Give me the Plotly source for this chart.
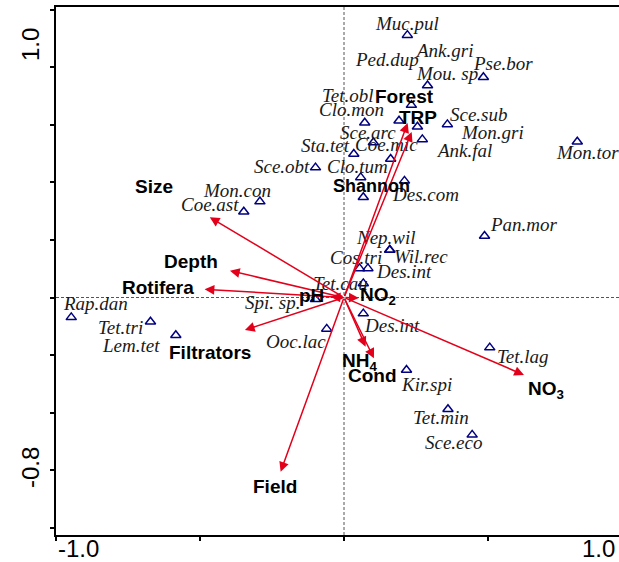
import plotly.graph_objects as go

# ---------------- data ----------------
species = ["Muc.pul", "Pse.bor", "Mou. sp", "Ank.gri", "Ped.dup", "Mon.gri", "Ank.fal",
           "Sce.sub", "Tet.obl", "Clo.mon", "Sta.tet", "Coe.mic", "Clo.tum", "Des.com",
           "Sce.arc", "Mon.tor", "Sce.obt", "Mon.con", "Coe.ast", "Pan.mor", "Nep.wil",
           "Wil.rec", "Cos.tri", "Des.int", "Tet.cau", "Spi. sp.", "Rap.dan", "Tet.tri",
           "Lem.tet", "Ooc.lac", "Des.int", "Tet.lag", "Kir.spi", "Tet.min", "Sce.eco"]
sp_x = [0.220, 0.484, 0.290, 0.234, 0.191, 0.255, 0.272,
        0.359, 0.072, 0.102, 0.034, 0.162, 0.058, 0.210,
        0.067, 0.810, -0.099, -0.292, -0.348, 0.488, 0.159,
        0.159, 0.054, 0.083, 0.067, -0.099, -0.947, -0.672,
        -0.584, -0.060, 0.067, 0.506, 0.217, 0.361, 0.445]
sp_y = [0.911, 0.765, 0.736, 0.668, 0.614, 0.593, 0.549,
        0.601, 0.607, 0.538, 0.498, 0.481, 0.417, 0.405,
        0.348, 0.541, 0.451, 0.333, 0.298, 0.2135, 0.165,
        0.165, 0.101, 0.101, 0.049, -0.006, -0.069, -0.084,
        -0.131, -0.109, -0.056, -0.174, -0.252, -0.388, -0.477]

env_names = ["Size", "Depth", "Rotifera", "Filtrators", "pH", "NO<sub>2</sub>",
             "NH<sub>4</sub>", "Cond", "NO<sub>3</sub>", "Field", "Forest", "TRP"]
env_x = [-0.466, -0.396, -0.484, -0.344, -0.046, 0.051, 0.075, 0.104, 0.625, -0.220, 0.221, 0.235]
env_y = [0.2785, 0.093, 0.0285, -0.113, 0.003, -0.002, -0.171, -0.211, -0.269, -0.605, 0.606, 0.575]

supp_names = ["Shannon"]
supp_x = [0.096]
supp_y = [0.387]

x_end_labels = ["-1.0", "1.0"]
y_end_labels = ["1.0", "-0.8"]

# ---------------- layout helpers (label offsets in px: right, down) ----------------
sp_lab_off = [(0, -12), (20, -14), (19, -12.5), (33, -55), (-12, -61), (75, 6), (42, 11),
              (32, -10), (-17, -27), (-22, -33), (-28, -9), (-4, -14), (-3, -11), (21, 14),
              (5, -65), (10, 11), (-33, -1.5), (-23, -11), (-34, -7), (39, -12), (-4, -12),
              (31, 7), (-4, -11), (36, 3), (-23, 0), (-43, 3), (24, -14), (-30, 6),
              (-45, 10), (-31, 13), (29, 11.5), (33, 9), (20, 14), (-7, 8), (-19, 8)]
env_lab_off = [(-56, -31), (-39, -9), (-47, -2), (-35, 22), (-19, -1.5), (19, -2),
               (-6.5, 15), (-1, 17), (22, 15), (-5.5, 15), (-3.5, -26), (6.5, -14)]

RED = "#E3001B"
NAVY = "#000080"

fig = go.Figure()
fig.add_trace(go.Scatter(
    x=sp_x, y=sp_y, mode="markers",
    marker=dict(symbol="triangle-up-open", size=9, color=NAVY, line=dict(width=1.5, color=NAVY)),
    hoverinfo="text", text=species, showlegend=False, cliponaxis=False))

ann = []
for name, x, y, (dx, dy) in zip(species, sp_x, sp_y, sp_lab_off):
    ann.append(dict(x=x, y=y, xref="x", yref="y", text=name, showarrow=False,
                    xshift=dx, yshift=-dy,
                    font=dict(family="Liberation Serif", size=19, color="#1a1a1a", style="italic")))

for name, x, y, (dx, dy) in zip(env_names, env_x, env_y, env_lab_off):
    ann.append(dict(x=x, y=y, xref="x", yref="y", ax=0, ay=0, axref="x", ayref="y",
                    text="", showarrow=True, arrowhead=2, arrowsize=1.3, arrowwidth=1.5,
                    arrowcolor=RED))
    ann.append(dict(x=x, y=y, xref="x", yref="y", text="<b>" + name + "</b>", showarrow=False,
                    xshift=dx, yshift=-dy,
                    font=dict(family="Liberation Sans", size=19, color="black")))

for name, x, y in zip(supp_names, supp_x, supp_y):
    ann.append(dict(x=x, y=y, xref="x", yref="y", text="<b>" + name + "</b>", showarrow=False,
                    font=dict(family="Liberation Sans", size=18, color="black")))

AX_FONT = dict(family="Liberation Sans", size=24, color="black")
XMIN = -1.0
XMAX = XMIN + (619 - 56) / 288.0
YMIN, YMAX = -0.8247, 1.0087
ann.append(dict(x=XMIN, y=0, xref="x", yref="paper", text=x_end_labels[0], showarrow=False,
                xanchor="left", yanchor="top", yshift=2, font=AX_FONT))
ann.append(dict(x=1.0, y=0, xref="paper", yref="paper", text=x_end_labels[1], showarrow=False,
                xanchor="right", yanchor="top", yshift=2, xshift=-2, font=AX_FONT))
ann.append(dict(x=0, y=YMAX, xref="paper", yref="y", text=y_end_labels[0], showarrow=False,
                xanchor="center", yanchor="middle", textangle=-90, xshift=-26, yshift=-38,
                font=AX_FONT))
ann.append(dict(x=0, y=YMIN, xref="paper", yref="y", text=y_end_labels[1], showarrow=False,
                xanchor="center", yanchor="middle", textangle=-90, xshift=-26, yshift=67,
                font=AX_FONT))

fig.add_hline(y=0, line=dict(color="#555", width=1, dash="3px,2px"))
fig.add_vline(x=0, line=dict(color="#555", width=1, dash="3px,2px"))

fig.update_layout(
    width=619, height=562,
    margin=dict(l=56, r=0, t=7, b=27),
    plot_bgcolor="white", paper_bgcolor="white",
    annotations=ann,
    xaxis=dict(range=[XMIN, XMAX], showgrid=False, zeroline=False, showline=True,
               linecolor="black", linewidth=2, mirror=True, ticks="outside", ticklen=4,
               tickwidth=1.5, tickcolor="black", tickvals=[-1.0, -0.5, 0, 0.5],
               showticklabels=False),
    yaxis=dict(range=[YMIN, YMAX], showgrid=False, zeroline=False, showline=True,
               linecolor="black", linewidth=2, mirror=False, side="left", ticks="outside",
               ticklen=4, tickwidth=1.5, tickcolor="black",
               tickvals=[-0.8, -0.6, -0.4, -0.2, 0, 0.2, 0.4, 0.6, 0.8, 1.0],
               showticklabels=False),
)

fig.write_html("out.html", config={"displayModeBar": False},
               post_script="document.body.style.margin='0';document.body.style.overflow='hidden';"
                           "document.documentElement.style.overflow='hidden';")
